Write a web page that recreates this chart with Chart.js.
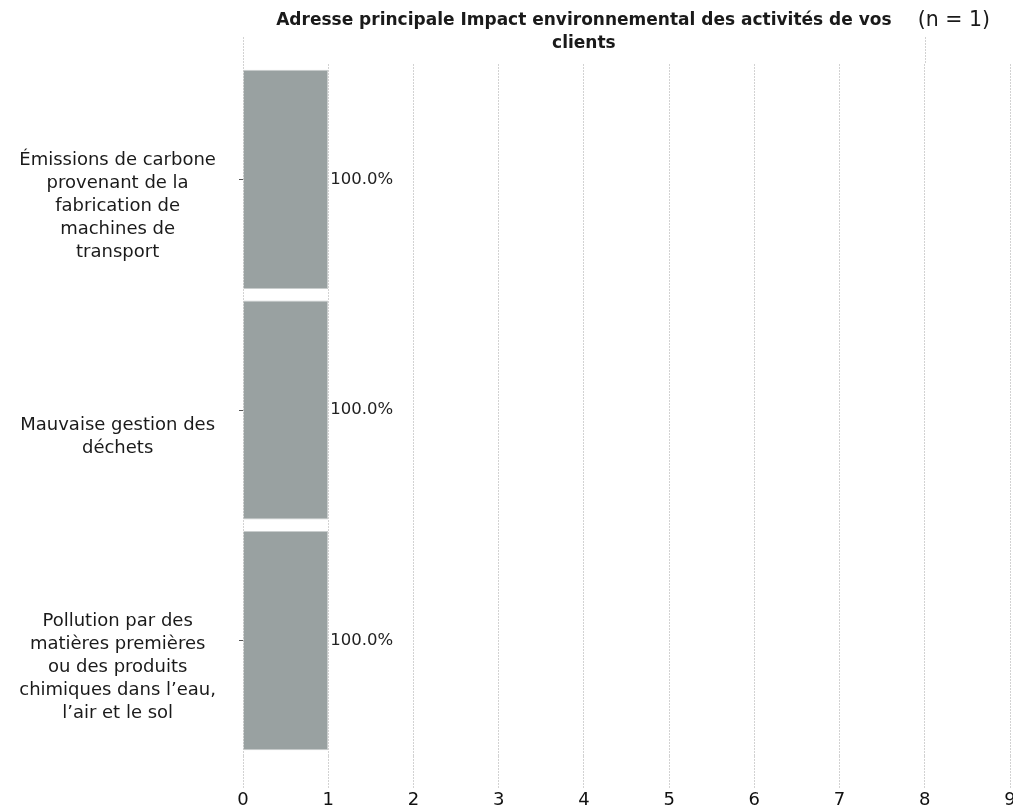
<!DOCTYPE html>
<html>
<head>
<meta charset="utf-8">
<script src="https://cdn.jsdelivr.net/npm/chart.js@4"></script>
<style>
  html, body { margin: 0; padding: 0; background: #fff; }
  #wrap { width: 1013px; height: 808px; }
</style>
</head>
<body>
<div id="wrap"><canvas id="bar"></canvas></div>
<script>
const categories = [
    ["Émissions de carbone", "provenant de la", "fabrication de", "machines de", "transport"],
    ["Mauvaise gestion des", "déchets"],
    ["Pollution par des", "matières premières", "ou des produits", "chimiques dans l\u2019eau,", "l\u2019air et le sol"]
];
const counts = [1, 1, 1];
const percentLabels = ["100.0%", "100.0%", "100.0%"];
const xTicks = [0, 1, 2, 3, 4, 5, 6, 7, 8, 9];
const titleLines = ["Adresse principale Impact environnemental des activités de vos", "clients"];
const sampleText = "(n = 1)";

const FONT = "'DejaVu Sans', 'Open Sans', sans-serif";

// valeurs a droite des barres + titre + (n = 1)
const extras = {
    id: "extras",
    afterDatasetsDraw(chart) {
        const ctx = chart.ctx;
        const meta = chart.getDatasetMeta(0);
        ctx.save();
        ctx.fillStyle = "#222";
        ctx.font = "16.5px " + FONT;
        ctx.textAlign = "left";
        ctx.textBaseline = "middle";
        meta.data.forEach((bar, i) => {
            ctx.fillText(percentLabels[i], bar.x + 2, bar.y);
        });
        ctx.restore();
    },
    afterDraw(chart) {
        const ctx = chart.ctx;
        const x = chart.scales.x;
        const top = chart.chartArea.top;
        ctx.save();
        // lignes 0 et 8 prolongees vers le haut
        ctx.strokeStyle = "#d2d2d2";
        ctx.lineWidth = 1;
        ctx.setLineDash([2, 1]);
        [0, 8].forEach(v => {
            const px = Math.round(x.getPixelForValue(v)) + 0.5;
            ctx.beginPath();
            ctx.moveTo(px, 37);
            ctx.lineTo(px, top);
            ctx.stroke();
        });
        ctx.setLineDash([]);
        const cx = (x.getPixelForValue(0) + x.getPixelForValue(8)) / 2;
        ctx.fillStyle = "#1a1a1a";
        ctx.font = "bold 17px " + FONT;
        ctx.textAlign = "center";
        ctx.textBaseline = "middle";
        titleLines.forEach((line, i) => ctx.fillText(line, cx, 21 + i * 23));
        ctx.font = "20.5px " + FONT;
        ctx.textAlign = "right";
        ctx.fillText(sampleText, 990, 21);
        ctx.restore();
    }
};

const barChartDiv = document.getElementById("bar");
const barChart = new Chart(barChartDiv,
    {
        type: "bar",
        data: {
            labels: categories,
            datasets: [
                {
                    label: "n",
                    data: counts,
                    backgroundColor: "#99a1a1",
                    borderColor: "#c9cdcd",
                    borderWidth: 1,
                    barPercentage: 0.95,
                    categoryPercentage: 1
                }
            ]
        },
        options: {
            indexAxis: "y",
            responsive: true,
            maintainAspectRatio: false,
            animation: false,
            layout: {
                padding: { top: 64, right: 3, bottom: -4, left: 0 }
            },
            plugins: {
                legend: { display: false },
                title: { display: false },
                tooltip: { enabled: false }
            },
            scales: {
                x: {
                    min: 0,
                    max: 9,
                    afterBuildTicks: (scale) => {
                        scale.ticks = xTicks.map(v => ({ value: v }));
                    },
                    afterFit: (scale) => {
                        scale.paddingLeft = 0;
                        scale.paddingRight = 0;
                    },
                    border: { display: false, dash: [2, 1] },
                    grid: {
                        color: "#d2d2d2",
                        lineWidth: 1,
                        tickLength: 32,
                        tickColor: "#d2d2d2",
                        tickBorderDash: [2, 1]
                    },
                    ticks: {
                        color: "#111",
                        padding: 3,
                        font: { family: FONT, size: 18, lineHeight: 1.0 },
                        maxRotation: 0
                    }
                },
                y: {
                    afterFit: (scale) => {
                        scale.width = 243;
                        scale.paddingTop = 0;
                        scale.paddingBottom = 0;
                    },
                    border: { display: false },
                    grid: {
                        offset: false,
                        drawOnChartArea: false,
                        tickLength: 4,
                        tickColor: "#555"
                    },
                    ticks: {
                        color: "#1a1a1a",
                        crossAlign: "center",
                        padding: 23,
                        labelOffset: 27,
                        font: { family: FONT, size: 18, lineHeight: 1.28 }
                    }
                }
            }
        },
        plugins: [extras]
    });
</script>
</body>
</html>
